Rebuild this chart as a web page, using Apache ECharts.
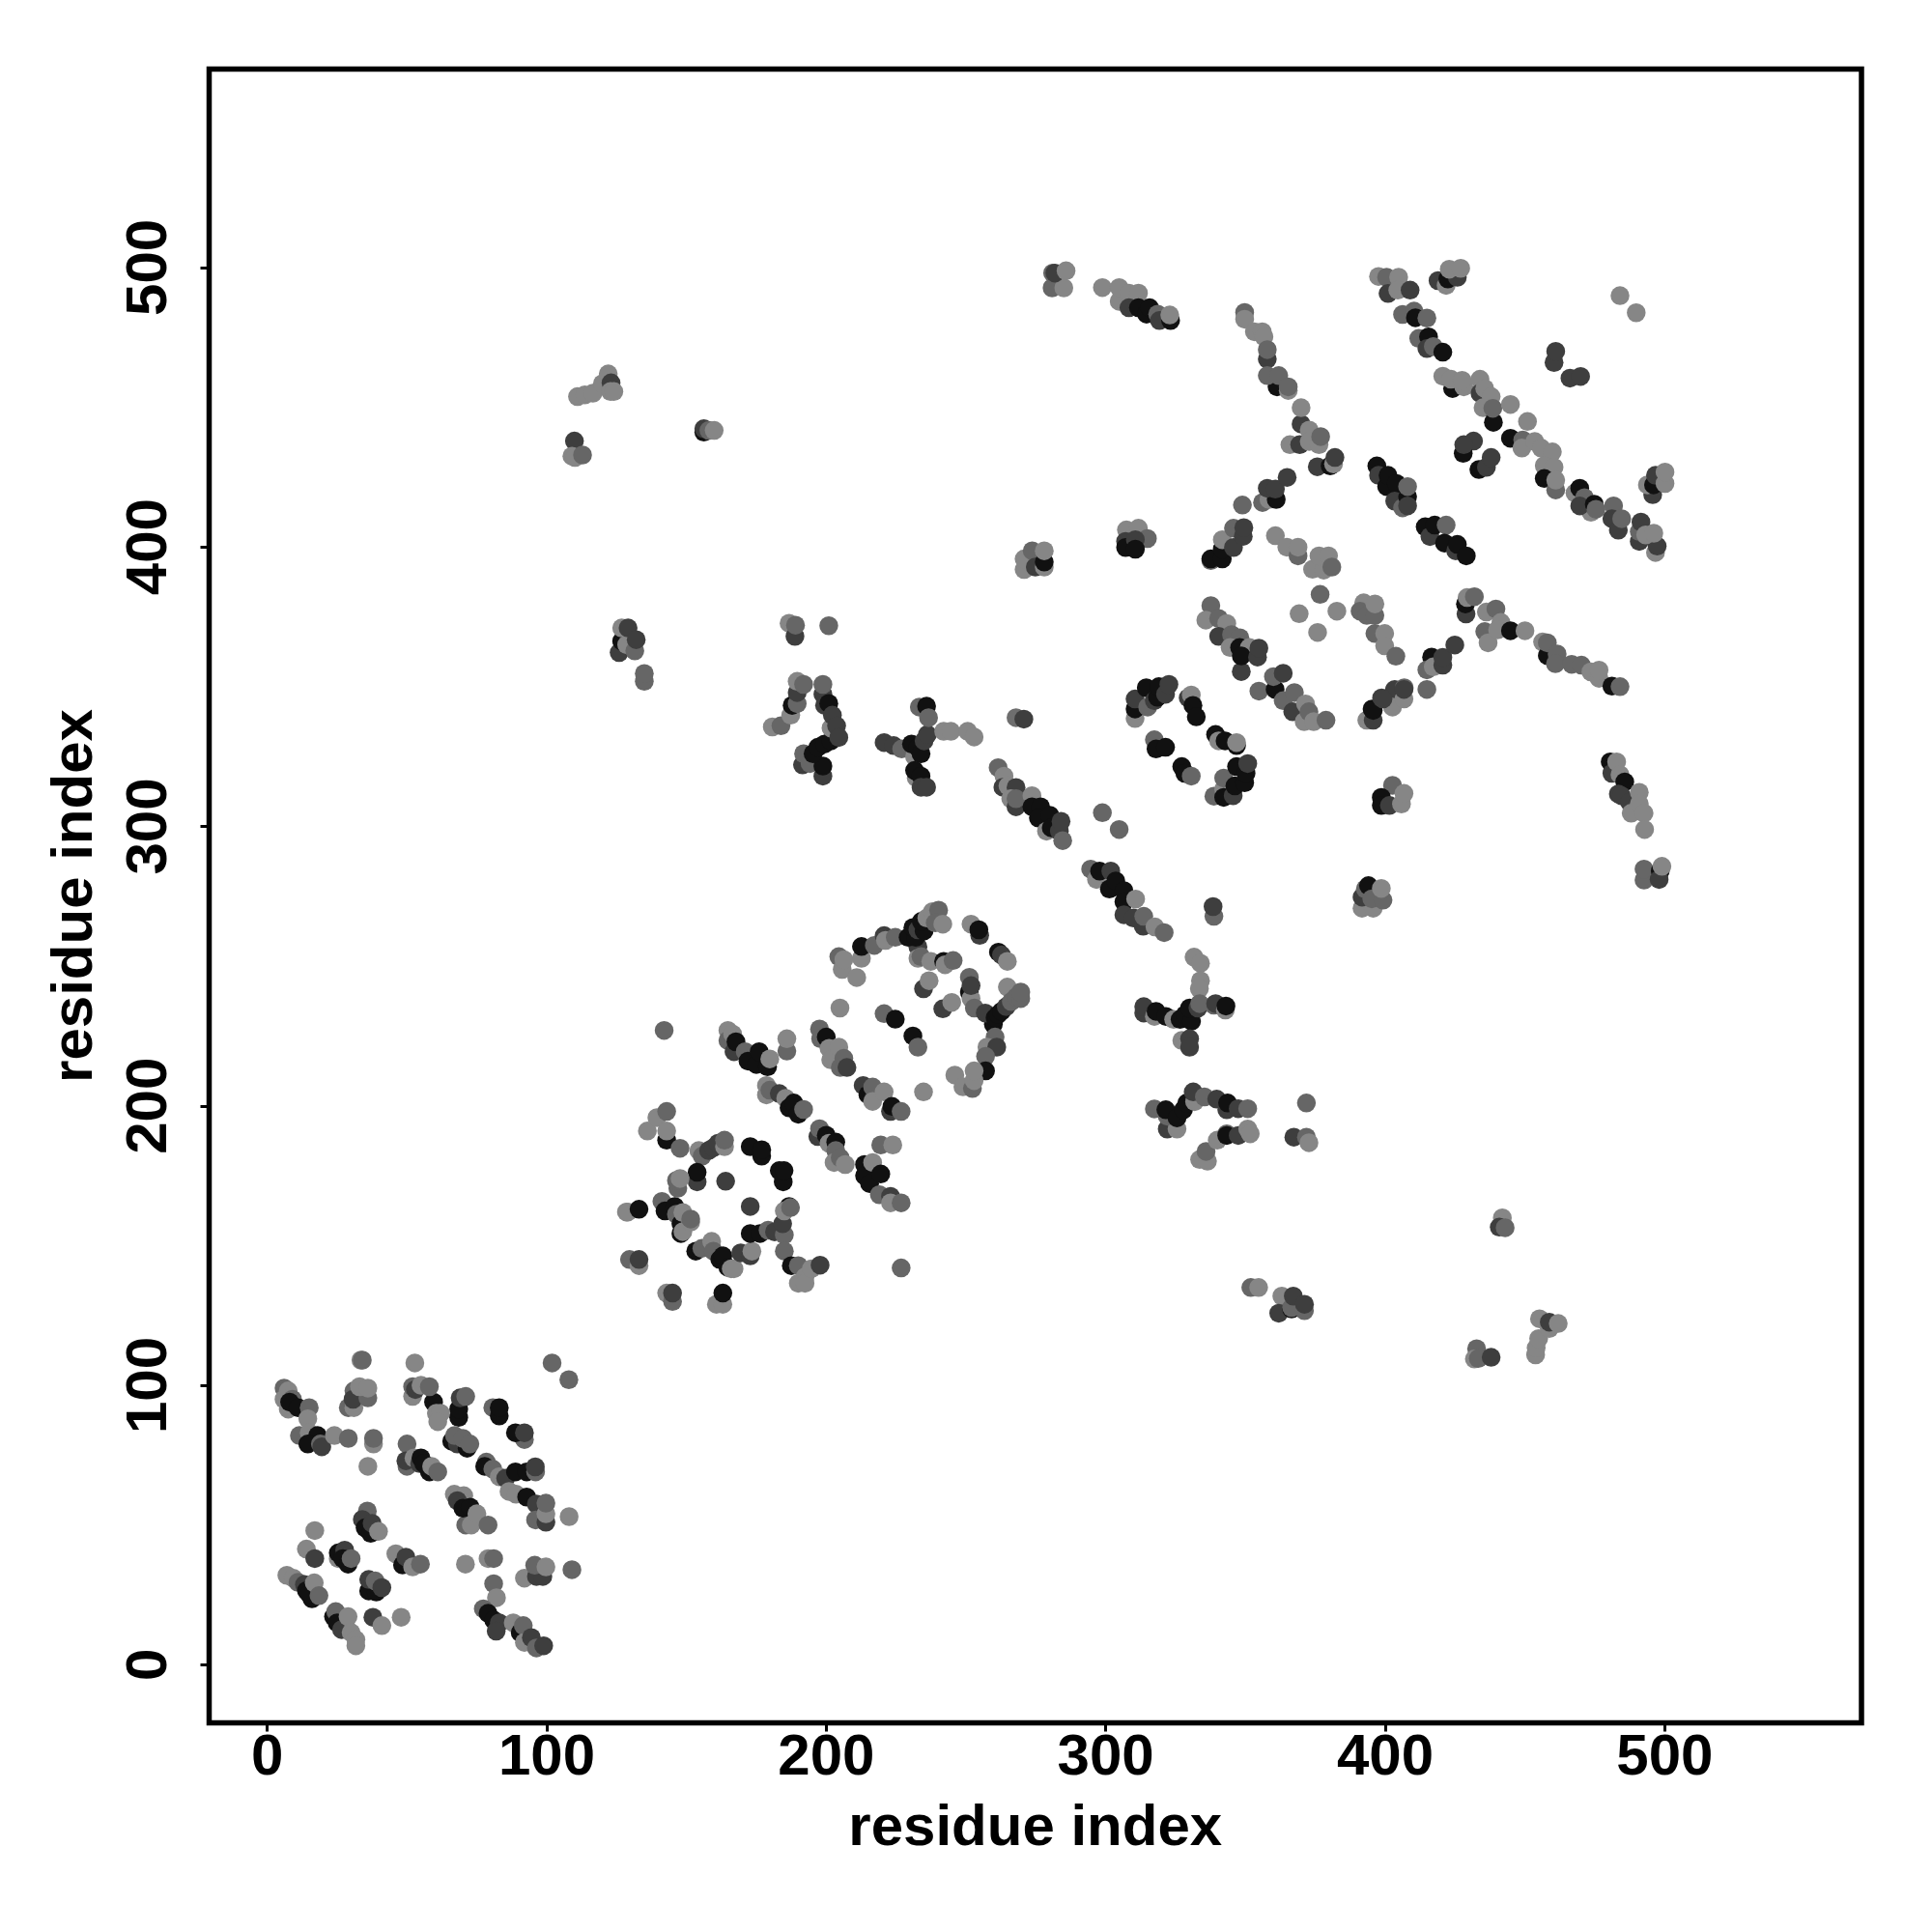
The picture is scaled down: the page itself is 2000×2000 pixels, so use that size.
<!DOCTYPE html>
<html><head><meta charset="utf-8">
<style>html,body{margin:0;padding:0;background:#fff}#c{width:2000px;height:2000px}</style>
<script src="https://cdn.jsdelivr.net/npm/echarts@6/dist/echarts.min.js"></script>
</head><body><div id="c"></div>
<script>
// each mark: [residue i, residue j, contact level 1 (strongest) .. 5 (weakest)]
const tickValues = [0,100,200,300,400,500];
const axisTitle = 'residue index';
const bottomLeft = [
[6,99,3],[7.5,98,4],[6,95,4],[9,95,3],[7.5,91.5,4],[8,94,1],[11,92,1],[15,92,3],[14.5,88,4],[11.5,82,3],[15,83,4],[18,82,1],[14.5,79,1],[19,79,3],[19.5,78,2],[24,82,4],[29,81,3],[38,79,4],[38,81,3],[36,71,4],
[33.5,109,4],[34,109,3],[52.8,108,4],[101.9,108,3],[107.9,102,3],
[29,92,3],[31,92,4],[31,98,3],[30.7,95,2],[36,95.5,3],[33,99.5,4],[36,99,4],
[52,96,4],[52,99.5,3],[53,98.5,2],[55,100,4],[59.5,94,1],[58,99.5,3],[60.5,90,4],[62,90,4],[61,87,4],[68.5,88.5,1],[68.5,91.5,1],[69,95.5,2],[71,96,3],[66,80,1],[68,79,2],[71.5,77.5,1],[67,82,3],[70,81,3],[72.5,79,3],
[80.7,92,3],[83,89,1],[83,92,1],[92,80.6,3],[88.8,83,1],[92,83,2],
[50,79,3],[50,71,3],[49.6,73,2],[52.5,74,4],[54.5,72,2],[55,74,1],[56,72,1],[58,69,1],[58.8,71,4],[61,69,3],
[66.9,61,4],[70.3,60.5,4],[68,58.7,2],[71,50,3],[70,56,1],[72.6,56.4,1],[73,50,4],[75,54,4],[79,50,3],
[78.4,72.5,3],[77.8,71,1],[80.7,70,3],[83,67.3,4],[85.3,66.7,2],[88.8,69,1],[92.8,69,1],[96,69,3],[95.9,70.8,2],[86.5,62,4],[89,61,4],[92.8,60,1],[96.3,57.5,2],[96,51.8,3],[99.7,51,2],[99.7,54,4],[99.7,57.8,3],[108,53,4],
[35.8,55,3],[34,52,2],[35,49,1],[37,47,1],[37.5,50.6,2],[39.8,47.7,4],[17,48,4],[14,41.4,4],[17,38,2],
[25.4,38,4],[25.4,40,1],[27.7,41,2],[27,38,1],[28.9,36,1],[30,38,3],
[46,39.7,4],[48.4,35.7,1],[49.6,38.5,2],[52,35,4],[54.8,36,3],
[36.3,26.4,1],[39,26,1],[36.3,30.5,2],[38.6,30,3],[41,27.6,2],
[7,32,4],[9.3,31,4],[11,29.5,3],[13.3,28.7,2],[14,26.5,1],[16,23.6,1],[15,25.3,1],[16.8,29.3,4],[18.5,24.7,3],
[23.7,17.2,1],[24.5,19,3],[25,15,1],[26.6,12.6,2],[28.9,17.2,4],[30,11.5,4],[31.7,9,4],[31.7,6.8,4],
[37.8,17,2],[41,14,4],[47.9,17,4],
[70.9,36,4],[79,38,4],[81,38,3],[81,29,3],[82,24,4],
[92,31,4],[96.3,31.6,2],[98.6,31.6,2],[95.7,35.6,3],[99.7,35,4],[109,34,3],
[77.3,20,3],[79,18.4,1],[81,16,1],[83,15,2],[81.9,12,2],[88,15,4],[90.5,11.5,1],[91.6,14,3],[92,8,4],[94.5,9.7,2],[96.3,6,3],[98.9,6.8,2]
];
const middleBand = [
[142,227,3],
[164.8,227,4],[164.8,223.4,3],[166.5,225.7,4],[167,219.4,2],[167.7,222.9,1],[171,219.4,3],[172,216,1],[175,214.8,1],[176,219.4,1],[179,214,1],[179.8,216.8,4],[185.9,219.6,3],[185.9,224,4],
[178.6,203.9,4],[178.6,207.3,4],[179.8,205.6,3],[183.2,204.4,2],[185.5,202.7,4],[186.7,199.3,1],[188.4,201,1],[190,197,1],[191.9,198.7,3],
[197,189,2],[197.6,191.8,3],[200,189.5,1],[201,186.6,4],[203.4,187,1],[203.4,184,3],[202.8,179.7,4],[205,181.4,3],[206.8,179,4],
[213.7,179,1],[213.7,175,1],[215.5,172.2,1],[216.6,179.7,4],[219.5,175.6,1],[219,168.2,3],[223,167.6,2],[223,165.3,4],[226.8,165.3,3],
[219.5,186,3],[223.8,186,4],[226.8,142,3],
[197.6,227.5,3],[198,224,3],[200,224.6,1],[201,220.6,4],[201.6,216.5,4],[204.5,221,4],[205,213.7,3],[206.3,217,3],[207.4,213.7,2],
[213.2,207.3,2],[214.9,204,1],[216.6,206.7,3],[216.6,201.6,4],[220.7,205,4],[223,198,2],[223.5,199.8,1],[226.8,198,3],[234.8,205,4],
[220.7,233,3],[224.7,231,1],[231,225,1],[232.8,221,3],[204.9,235,4],
[204.5,253.4,3],[205.7,248.8,4],[206.3,252.3,4],[210.9,245.9,4],[212.6,252.8,4],[212.6,257,1],[217.2,257.4,3],[220.7,260.9,2],[221.2,259.2,4],[224.7,260.3,3],
[232.8,256.9,2],[229.3,260.3,1],[232,260.3,1],[231,263.8,1],[232.8,263,2],[235,262.6,1],[234,266,1],[236,267.2,4],[238,269.5,4],[240.2,270,3],[239,265.5,3],[241.7,265,4],
[232.8,252.8,4],[233.9,253.4,3],[237.4,251.7,4],[242,251.7,1],[242.5,250.5,4],[245.4,252,3],[234.8,241.9,2],[236.8,244.8,4],
[251.8,265,4],[254.9,261,2],[254.6,263,1],[261.6,255,1],[262.7,254,2],[264.8,251.7,4],
[251.2,240.7,1],[251.8,238.4,4],[251.2,246,3],[251.8,243,2],[253,235,3],[241.7,234.7,2],[244.9,237,4],
[264.8,242.5,4],[259.8,229.2,1],[256.9,233.2,2],[260.4,231.5,1],[261.5,232.7,1],[262.7,233.8,1],[264.4,235.5,2],[266.2,237.3,3],[268,239,3],[269.6,238.4,3],[269.6,240.7,3],
[260.4,224.6,3],[257.5,221,4],[261,221,2],[257,217.7,3],[257,212.5,1],
[246,211,4],[248.9,206.8,4],[252.3,206.2,3],[252.9,209,4],[252.9,212.5,4]
];
const roundLoop = [
[142.9,187.7,1],[136,191,4],[139.4,195.8,4],[142.9,198,3],[142.9,191,4],[147.7,184.8,3],
[154.4,184,4],[155.6,182,3],[157.9,184,2],[159.6,185,2],[161.3,186.6,2],[163.6,185.4,4],[163.6,187.7,3],
[172.8,185.4,1],[176.9,182,1],[176.9,184.3,1],[184.6,172.8,1],[183.2,176.8,1],[184.9,176.8,1],[164,173,2],[172.8,164,2],
[153.8,172.8,2],[153.8,176.2,1],[146.9,170.5,3],[146.4,173.3,3],[147.7,174,4],
[128.5,162,4],[129,162,4],[133,163,1],
[141.2,165.8,3],[142.3,162.4,1],[145.8,164,1],[146.4,161.2,3],[148,157.8,1],[148,154.3,1],[148.7,155,4],[148.7,161.8,4],[151.5,158.4,4],[151.5,159.5,3],
[153.3,148,1],[155.5,149,3],[159,151.5,4],[159.6,148,3],[161.9,145,1],[163,146.3,1],[164.8,142.2,1],[166,141.7,4],[167,141.7,4],[169.4,147.4,2],[172.8,146.3,2],[173.4,148,4],
[172.8,154.3,1],[176.3,154.3,1],[179.2,155.5,3],[181.5,154.9,2],[185,153.8,3],[184.4,157.8,2],[186.7,164,1],[185,162.4,4],[187.2,163.6,3],
[185,148,3],[187.5,142.8,1],[190,142.8,3],[190,136.5,4],[192.4,138.8,4],[192.4,136.5,4],[194.7,141.7,4],[197.8,143,2],
[129.6,145,3],[133,142.8,4],[133,145,2],[142.9,133,4],[145,130,3],[145,133,2],[160.7,129,4],[163,129,4],[163,133,1]
];
const centralStrips = [
[186.7,372.7,4],[188.8,368,2],[189,372,3],[200.9,371.8,3],
[180.7,335.6,4],[183.8,336,3],[187.3,339.8,4],[187.8,343.3,1],[189.6,343.9,3],[189.6,347.9,2],[189.6,351.9,4],[191.9,350.8,3],
[198.8,318,2],[191.5,322,2],[191.9,326,3],[194.2,322.5,3],[198.8,321.6,1],[195.3,326,1],[197,328.3,1],[199.4,329.5,1],[201.7,330.6,1],[198.8,347.3,2],[198.8,350.8,3],[199.4,343.3,2],[200.9,344,1],[201.7,335.2,4],[202.2,339.8,2],[203.7,336,2],[204.5,331.8,2],
[220.7,330,2],[224.1,328.9,2],[227,327.7,3],[231.6,325,4],[230.5,329.5,1],[232.8,328.3,1],[233.9,326,1],[235,330.6,2],[236.2,332.9,2],[233.3,342.7,3],[235.9,343,1],[236.6,338.9,3],[242,334,4],[244.6,334,4],[250.6,334,4],[252.9,332,4],
[232.2,317.4,4],[231.6,320,1],[233.9,318,1],[233.9,314,2],[235.9,314,2],
[267.9,338.9,5],[270.7,338.4,2],
[261.5,321,3],[263.6,318,4],[263.2,314,2],[265,314.5,4],[267.9,313.9,2],[266,309.9,4],[267.9,307,2],[267.9,309.9,3],[273.6,311,4],[273.6,307,1],[276.7,307,1],[275.9,303,1],[278.8,298.3,4],[280,304,1],[280.5,299.5,1],[283.4,298.3,2],[284,301.8,2],[284.6,294.9,3],
[298.8,304.9,3],[304.8,298.9,3],
[294.6,284.7,3],[296.7,281,4],[297.8,284,1],[301.8,284,2],[301.3,277.6,1],[303.6,280.5,1],[306.5,277,1],[306.5,273,1],[310.7,274,4],[306.5,268.4,2],[309.9,267.2,2],[313.4,264.3,2],[313.6,267.8,3],[317.6,264,4],[320.9,262,3],
[338.7,267.8,3],[338.4,271.3,2]
];
const crossCluster = [
[331.6,253.2,4],[333.9,251,4],[333.9,244.8,4],[333.5,241.9,4],
[313.6,233.2,2],[313.6,235.5,2],[317.4,232,4],[318,233.8,1],[321.5,232,1],[324.3,230.9,4],[326.6,230.9,1],[328.4,232.6,1],[330.7,230.3,1],[330,235,1],[333,235,2],[333.6,236.6,3],[338.7,236,3],[339.3,236.6,2],[342.8,234.3,4],[343,235.7,1],
[327.2,223.4,4],[330,224,2],[330,221,2],
[317.4,198.9,3],[322,191.7,2],[325.5,191.7,4],[322,196.3,3],[321.5,198.6,1],[325.5,195.7,1],[327.8,198.6,1],[329,201,1],[331.8,201.5,4],[331.3,205,2],[335.3,203.2,3],[339.7,202.4,2],[343.3,198.6,2],[343.6,201,1],[347.4,199,2],[350.8,199,3],
[333.6,180.8,4],[336.4,180.2,4],[335.9,183.7,3],[339.9,187.7,4],[343.3,190,3],[343.3,189.4,1],[347.4,189.4,2],[350.8,191.7,4],[351.7,190,4],
[371.8,201,3],[367.3,188.8,2],[371.8,188.8,3],[372.7,186.8,4]
];
const ringCluster = [
[337.6,379,3],[335.8,373.8,4],[340.4,374.4,3],[343.3,372.6,4],[340.4,368,2],[345,368.6,3],[348,367.5,3],[344.5,364,4],[347.9,364,1],[351.4,364,4],[348.5,355.4,2],[348.5,361,1],[354.3,360.6,2],[354.8,363.8,2],
[354.8,348.4,3],[360.6,349,1],[360,353.6,3],[363.5,354.8,2],[363.5,345,3],[366.9,341,2],[367.5,347.9,3],[371.5,343.8,4],[371,337.5,4],[372.7,341,3],[374.4,337.5,4],[378.8,338,3],
[310.5,338.6,4],[310.5,342,1],[310.5,345.6,2],[315,342.7,3],[314.5,349.6,1],[317.4,345,2],[318.5,346.2,1],[319,350,1],[321.4,347.3,2],[322.6,350.8,2],
[329.5,346,2],[330.6,347,4],[331.2,343.3,1],[332.4,339.2,1],
[339.3,332.9,1],[340.4,330.6,4],[342.7,330.6,1],[346.8,328.9,1],[346.8,330,4],
[317.4,331,3],[318,327.7,1],[321.4,328.3,1],[327.2,321.4,1],[328.3,319,1],[330.6,318,3],
[338.7,310.8,3],[342.2,313.3,4],[342.2,317.3,3],[342.2,310.4,1],[345.6,311,2],[346.2,314.5,1],[346.8,321.4,1],[349.7,315.6,1],[350.2,319,1],[350.8,322.5,2],
[402.6,314.7,3],[398.6,310.4,1],[398.6,307.5,1],[401.5,307.5,2],[405.8,308,4],[406.7,311.8,4],
[391.7,270.7,4],[395.7,270.7,4],[391.7,274.7,2],[392.9,277.6,3],[394,278.8,1],[395.2,274.1,3],[399.2,273.6,3],[398.6,277.8,4],
[376.7,383,3],[369.2,376.1,4],[382.7,377,4],[375.8,369.4,4],
[392.3,380,4],[391,377,3],[393.4,375.5,3],[396.3,375.5,3],[396.3,379.6,4],[396.3,369,3],[399.8,369,4],[399.8,364.6,4],[403.8,360.9,3],
[393.4,338,4],[395.7,338,2],[395.3,342,1],[395.7,341.5,1],[398.7,346,2],[403.4,345.6,4],[403.2,348.5,2],[403.4,349,2],[402.6,342.7,4],[406.7,345.6,4],[406.8,349.6,3],[399.2,345.6,2],[406.7,349,2],
[480.5,323.1,1],[481.1,319,2],[482.8,323.1,4],[484,318.5,4],[485.7,315.9,1],[483.4,311.6,2],[484.5,311,2],[487.4,308.7,2],[488,304.7,4],[490.9,312.2,4],[490.9,308.1,4],[492.6,304.7,4],[492.8,298.9,4],
[492.6,280.8,3],[492.6,284.7,3],[498.4,284,1],[498,281,2],[499,285.7,4]
];
const upperLeft = [
[111,453.8,4],[113.6,454.4,4],[116.5,455,4],[119.9,458.4,4],[122,461.9,4],[123,458.7,2],[122.8,455.6,4],[124,455.6,4],
[109.9,437.9,2],[109,432.5,4],[110.1,432,4],[112.8,432.9,3],
[156.2,441.1,1],[156.2,442.3,2],[158,441.7,3],[159.9,441.7,4],
[125.9,362.2,2],[126.8,366.3,1],[126.8,371,4],[128.6,365,4],[129.1,371,2],[131.5,362.8,3],[132,366.8,2],[134.9,351.9,3],[134.9,354.7,3],
[280.8,492.7,3],[285,492.7,4],[281,498,3],[281.8,498,2],[285.8,498.8,4],
[298.8,492.8,4],[304.8,487.9,4],[304.8,492.8,4],[308.3,490.8,4],[311.7,490.8,4],[308.3,485.6,2],[311.7,485.6,1],[314.6,483.3,1],[315.7,485.6,1],[318.6,483.3,3],[319.2,481,2],[323.2,481,1],[322.9,483,4],
[270.8,391.9,4],[270.8,395.7,4],[273.7,398.6,3],[274.8,392.8,2],[278,392.8,4],[278,394.6,1],[278,398.6,4],
[307.4,406.1,4],[311.7,406.7,4],[314.9,403,3],[307.1,402,2],[307.1,399.8,1],[310.6,402.6,2],[310.6,399.2,1]
];
const upperRight = [
[337.6,395.1,3],[337.6,395.7,1],[341.7,395.7,1],[341.7,399.2,1],[341.7,402.6,4],[345.7,399.8,2],[345.7,406.7,3],[349.2,403.8,2],[349.4,406.9,2],
[348.9,415,3],[356.1,415.9,3],[358.4,417,4],[361,417,1],[357.8,421,2],[360.7,420.7,2],[364.9,424.9,2],
[349.7,483.9,3],[349.7,481.5,4],[353.2,477,4],[356,477,4],[356.6,475.2,4],[357.8,467.2,2],[357.8,470.6,3],[361.3,457.3,1],[357.8,461.3,3],[361.9,461.3,3],[365.3,456,4],[365.3,457.3,3],
[369.9,444,2],[369.9,449.8,4],[365.9,436.6,4],[369.4,436.6,2],[372.8,441.8,4],[372.8,437.7,4],[376.3,436.6,4],[376.9,439.5,3],[375.7,428.7,2],[380.3,429,1],[381.5,429.7,4],[382,432,2],
[360.7,404,4],[364.8,399.9,4],[368.8,396.8,3],[368.8,399.9,4],[374,392,4],[378,391.7,4],[376.3,396.8,4],[379.7,396.8,4],[380.9,392.8,3],
[397.6,496.8,4],[400.5,496.5,3],[401,490.7,2],[404.8,496.5,4],[404.5,491.9,4],[408.9,491.9,2],
[418.9,495.3,2],[421.8,493.6,4],[422.4,495.9,1],[425.8,496.5,2],[422.9,499.4,4],[427,499.7,4],
[406.2,483.2,3],[410.3,484.4,3],[410.8,482,1],[414.9,481.9,3],
[412,474.6,3],[415.5,475.2,1],[414.9,471,2],[417.2,471.7,3],[420.6,469.7,1],
[420.6,461.1,4],[424.1,456.7,1],[423.5,460,4],[428.1,457.3,4],[427.5,459.6,4],[433.9,460,4],[433.9,455,2],[435.6,456.7,4],[437.9,453.8,4],[435,449.8,4],[438.7,444.6,1],[438.5,449.6,3],
[444.8,451,4],[450.9,444.9,4],
[431.6,437.9,2],[427.9,433.5,1],[428.1,436.6,2],[433.5,427.7,1],[436.2,428.5,2],[437.9,432,2],
[444.8,438.9,1],[449.2,438.3,3],[448.9,435.4,4],[453.5,437.7,4],[455.8,435.4,4],[459.8,434,4],[456.9,429.1,4],[460.4,428.5,4],[456.9,424.5,1],[461,420.4,3],[461,423.9,4],
[460.4,466,2],[461,470,2],[466.1,460.4,2],[469.9,461,2],[484,489.9,4],[489.8,483.8,4],
[397,429,1],[397.6,425.6,2],[400.5,421.6,1],[401,425.6,1],[404,422.7,1],[403.4,416.4,2],[406.2,414,3],[408,418,1],[408,414.7,2],[408,421.6,3],
[414.3,407.2,1],[416,403.7,2],[417.7,407.8,1],[421.8,407.8,3],[421.2,401.4,1],[425.2,398.6,2],[425.8,400.9,1],[429,396.8,1],
[467.9,419.3,4],[469.6,421,1],[471.3,417.6,3],[473.6,412.4,4],[469.6,414.7,2],[474.8,415.3,1],[475.4,413.5,3],[481.7,414.7,3],[481.1,410.1,2],[483.4,406,2],[484.6,410.1,3],
[490.9,402,2],[490.9,405.5,3],[491.5,408.9,2],[496.7,398,4],[497.3,400.3,2],[493.2,404.3,4],[496.1,404.9,4],
[495.7,418.7,2],[493.8,422.2,4],[496,422.2,1],[496.7,425.6,2],[500.1,422.7,4],[500.1,426.8,4],
[428.9,376,2],[428.7,379.6,1],[429.3,381.9,4],[431.9,382.2,3],
[436.2,376.7,4],[439.6,377.8,3],[441.4,373,4],[435.6,369.7,3],[436.8,365.7,4],[440.2,370.3,4],[444.8,370,1],[450,370,4],
[456.3,366,4],[458,361.1,1],[458,365.7,3],[461.5,361.7,3],[460.9,358.2,3],[466.7,358,3],[470.2,357.7,3],[473.6,355.3,4],[476.5,353,4],[476.5,355.9,4],[481.1,350.2,1],[484,350,3],
[416.6,360.6,1],[414.9,356,3],[417.2,357.1,4],[420.6,357.7,2],[420.6,360.5,2],[424.9,364.9,2],[414.9,349,3]
];
const farField = [
[351.9,135,3],[354.7,135,4],
[363,131.9,4],[361.9,125.8,2],[366.5,127.3,1],[366.5,127.8,3],[367.1,131.9,2],[371.1,126.7,3],[371.1,129,2],
[441.9,159.9,4],[440.8,156.6,2],[442.9,156.4,3],
[432.7,113.1,3],[431.9,109.4,4],[433.3,109.6,3],[437.9,110,2],
[453.8,110.9,4],[454,113.4,4],[454.9,116.7,4],[455.2,123.8,4],[458.7,120.3,4],[458.7,122.6,2],[461.9,122.1,4]
];
const clusters = [bottomLeft, middleBand, roundLoop, centralStrips, crossCluster, ringCluster, upperLeft, upperRight, farField];
const levelColors = ['#111111','#3e3e3e','#666666','#868686','#6e6e6e'];

const font = {fontFamily:'"Liberation Sans"',fontWeight:'bold',fontSize:60,color:'#000'};
function axis(nameGap,margin){
  return {
    type:'value',
    name:axisTitle,
    nameLocation:'middle',
    nameGap:nameGap,
    nameTextStyle:font,
    splitLine:{show:false},
    axisLine:{show:false,onZero:false},
    axisTick:{show:true,length:9,inside:false,customValues:tickValues,lineStyle:{color:'#000',width:3}},
    axisLabel:Object.assign({show:true,margin:margin,customValues:tickValues,hideOverlap:false},font)
  };
}
const xAxis = Object.assign(axis(80,7),{min:-20.8,max:570.4});
const yAxis = Object.assign(axis(108,31),{min:-20.8,max:571});
yAxis.axisLabel.rotate = 90;

const chart = echarts.init(document.getElementById('c'),null,{renderer:'canvas'});
chart.setOption({
  animation:false,
  backgroundColor:'#fff',
  grid:{left:216.5,right:73,top:71.5,bottom:216.5,show:true,borderWidth:5.5,borderColor:'#000',backgroundColor:'#fff'},
  xAxis:xAxis,
  yAxis:yAxis,
  series:clusters.map(function(c){
    return {type:'scatter',silent:true,symbolSize:19.5,data:c,
      itemStyle:{opacity:1,color:function(p){return levelColors[p.data[2]-1];}}};
  })
});
</script></body></html>
